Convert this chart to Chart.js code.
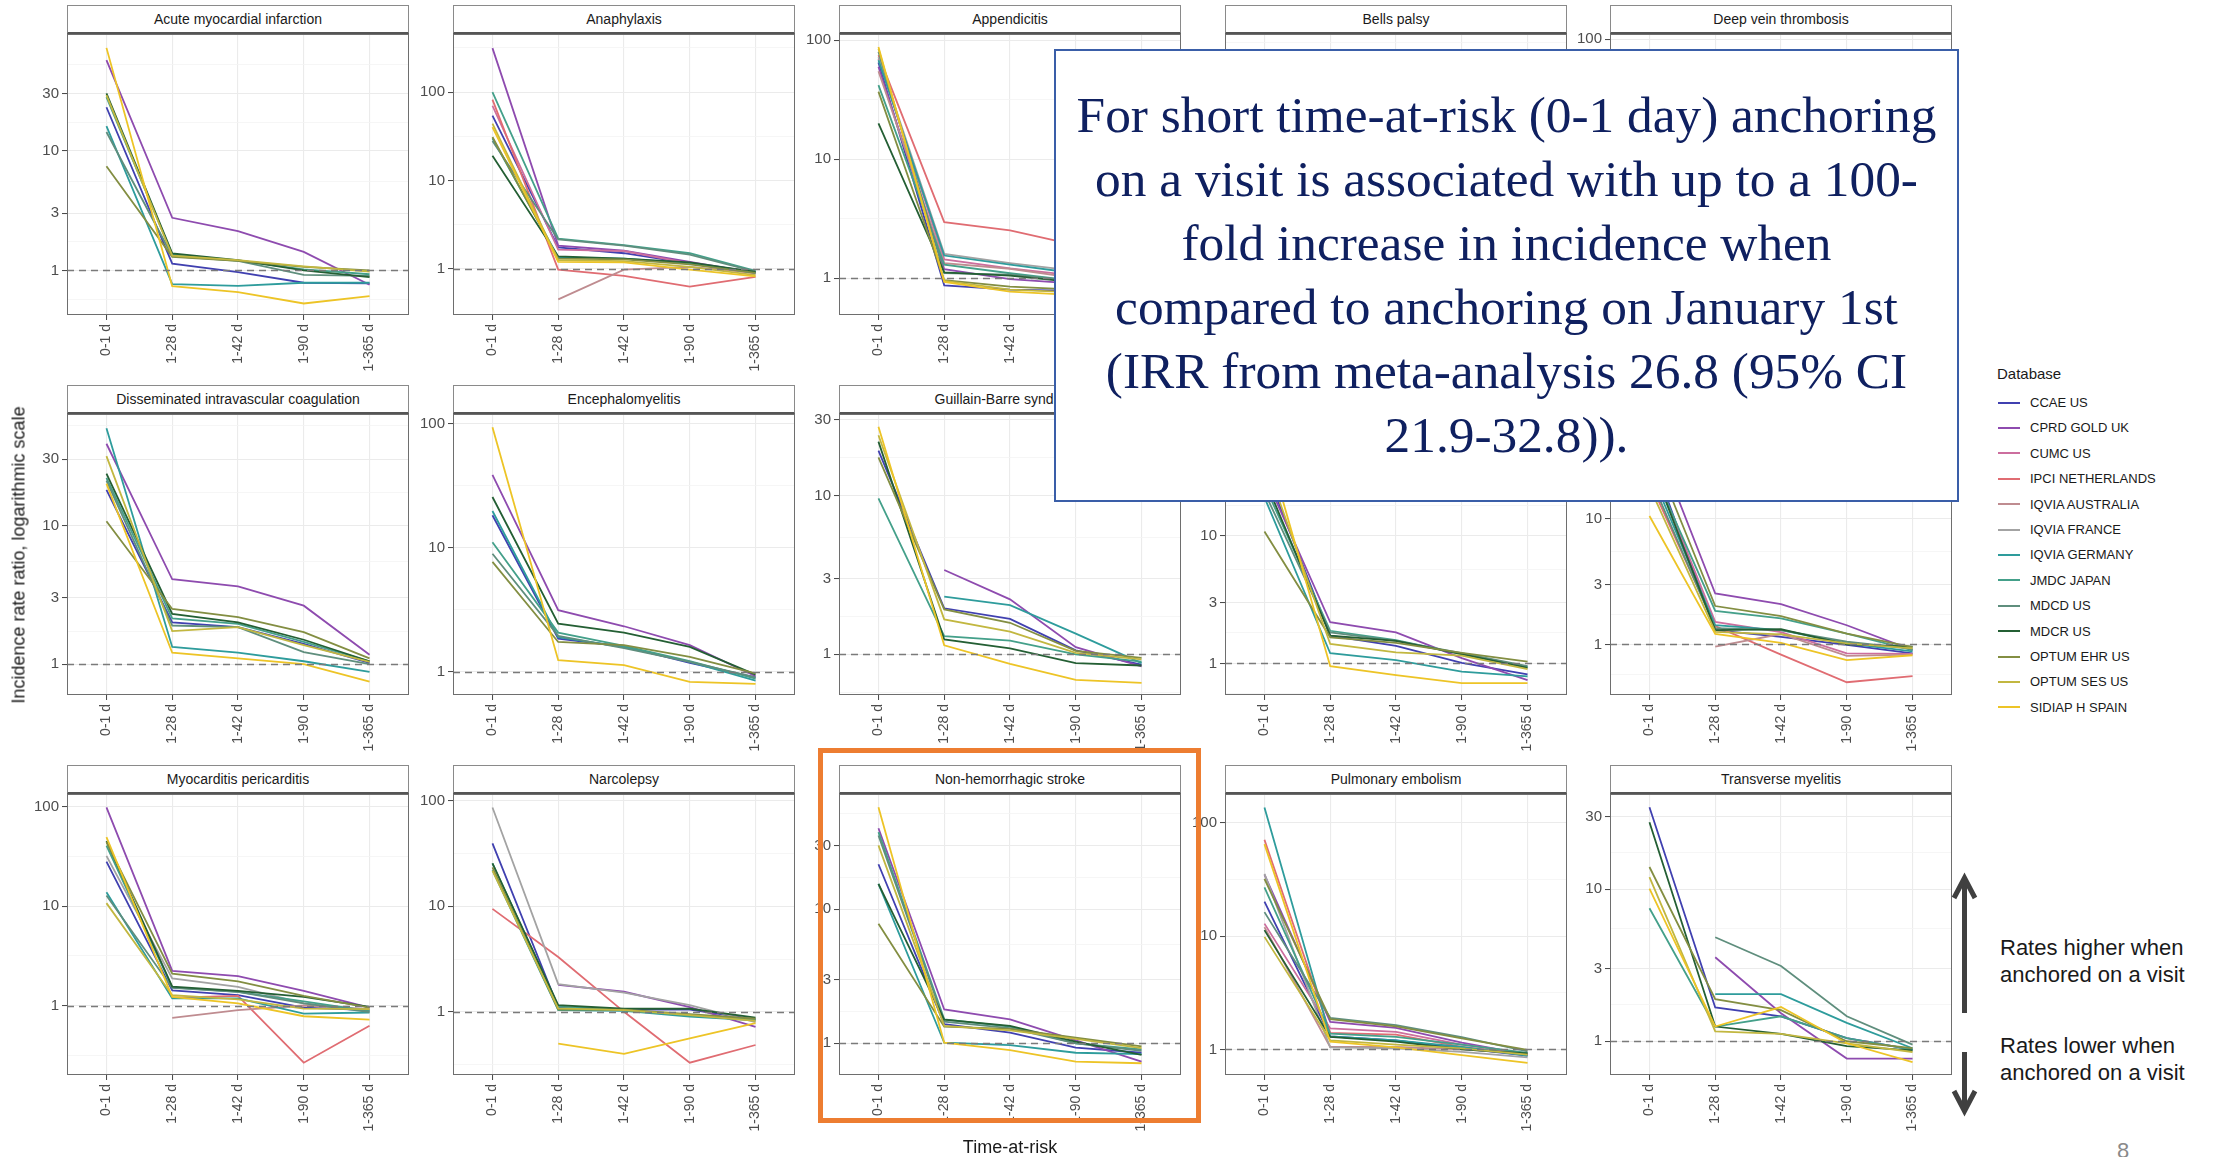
<!DOCTYPE html>
<html><head><meta charset="utf-8">
<script src="https://cdn.jsdelivr.net/npm/chart.js@4.4.1/dist/chart.umd.min.js"></script>
<style>
html,body{margin:0;padding:0;background:#fff;width:2215px;height:1157px;overflow:hidden;position:relative;font-family:"Liberation Sans",Arial,sans-serif;}
.abs{position:absolute;}
.strip{position:absolute;box-sizing:border-box;background:#fff;border:1px solid #8a8a8a;border-bottom:2px solid #555;text-align:center;font-size:14px;color:#1a1a1a;line-height:26px;white-space:nowrap;overflow:hidden;}
.lg{position:absolute;font-size:13px;color:#1a1a1a;line-height:18px;white-space:nowrap;}
.lg span{display:inline-block;width:22px;height:2px;vertical-align:middle;margin-right:10px;position:relative;top:-1px;}
.note{position:absolute;font-size:22px;line-height:27px;color:#1a1a1a;white-space:nowrap;}
#box{position:absolute;left:1054px;top:49px;width:905px;height:453px;box-sizing:border-box;border:2px solid #3a5ea8;background:#fff;z-index:20;}
.bl{position:absolute;left:0;width:100%;text-align:center;font-family:"Liberation Serif","Times New Roman",serif;color:#0f2060;white-space:nowrap;}
#orange{position:absolute;left:818px;top:748px;width:383px;height:375px;box-sizing:border-box;border:5px solid #ed7d31;z-index:21;}
</style></head><body>
<script>
// ---------------- DATA ----------------
const timeAtRisk = ['0-1 d', '1-28 d', '1-42 d', '1-90 d', '1-365 d'];
const databases = ['CCAE US', 'CPRD GOLD UK', 'CUMC US', 'IPCI NETHERLANDS', 'IQVIA AUSTRALIA', 'IQVIA FRANCE',
  'IQVIA GERMANY', 'JMDC JAPAN', 'MDCD US', 'MDCR US', 'OPTUM EHR US', 'OPTUM SES US', 'SIDIAP H SPAIN'];
const panelTitles = ['Acute myocardial infarction', 'Anaphylaxis', 'Appendicitis', 'Bells palsy', 'Deep vein thrombosis',
  'Disseminated intravascular coagulation', 'Encephalomyelitis', 'Guillain-Barre syndrome', 'Hemorrhagic stroke', 'Immune thrombocytopenia',
  'Myocarditis pericarditis', 'Narcolepsy', 'Non-hemorrhagic stroke', 'Pulmonary embolism', 'Transverse myelitis'];
const referenceRatio = 1;

// Incidence rate ratios, rows follow `databases`, null = not estimated
const acuteMiIrr = [
  [23, 1.14, 0.97, 0.79, 0.78], [57, 2.75, 2.13, 1.43, 0.76], null, null, null, null,
  [16, 0.77, 0.745, 0.79, 0.79], [28, 1.36, 1.21, 1.02, 0.93], [14.3, 1.32, 1.2, 0.92, 0.9],
  [30, 1.39, 1.22, 1.0, 0.88], [7.4, 1.3, 1.2, 1.07, 1.0], [29, 1.33, 1.22, 1.08, 0.98], [72, 0.74, 0.66, 0.53, 0.61]];
const anaphylaxisIrr = [
  [54, 1.75, 1.5, 1.15, 0.92], [314, 1.83, 1.6, 1.2, 0.9], [70, 1.65, 1.59, 1.15, 0.88], [82, 0.98, 0.83, 0.63, 0.81],
  [null, 0.45, 0.98, 1.05, 0.9], null, [30, 1.35, 1.3, 1.15, 0.9], [100, 2.2, 1.85, 1.5, 0.95], [28, 2.15, 1.83, 1.45, 0.93],
  [19, 1.38, 1.3, 1.18, 0.92], [31, 1.3, 1.28, 1.12, 0.9], [44, 1.25, 1.22, 1.05, 0.85], [40, 1.2, 1.18, 0.98, 0.82]];
const appendicitisIrr = [
  [65, 0.87, 0.8, 0.78, 0.8], [60, 1.19, 0.98, 0.9, 0.85], [70, 1.44, 1.21, 1.05, 0.9], [75, 2.96, 2.52, 1.9, 1.2],
  [55, 1.34, 1.2, 1.0, 0.9], [72, 1.6, 1.34, 1.15, 0.95], [68, 1.55, 1.3, 1.1, 0.9], [42, 1.3, 1.1, 0.95, 0.88],
  [80, 1.1, 1.07, 0.95, 0.87], [20, 1.12, 1.05, 0.92, 0.85], [37, 0.96, 0.85, 0.8, 0.82], [85, 0.95, 0.8, 0.76, 0.8],
  [88, 0.93, 0.77, 0.72, 0.78]];
const bellsPalsyIrr = [
  [25, 1.6, 1.4, 1.15, 1.0], [40, 2.2, 1.8, 1.4, 1.05], null, null, null, null,
  [12, 1.3, 1.2, 1.0, 0.9], [18, 1.5, 1.3, 1.1, 0.95], [20, 1.45, 1.3, 1.1, 0.95], [15, 1.4, 1.25, 1.05, 0.92],
  [22, 1.55, 1.35, 1.12, 0.98], [28, 1.5, 1.3, 1.1, 0.96], [35, 1.2, 1.05, 0.9, 0.85]];
const dvtIrr = [
  [45, 1.6, 1.4, 1.2, 1.0], [70, 2.0, 1.7, 1.35, 1.05], [30, 1.5, 1.35, 1.15, 0.98], [25, 1.4, 1.2, 1.0, 0.9], null, null,
  [20, 1.3, 1.2, 1.05, 0.95], [35, 1.45, 1.3, 1.1, 0.95], [40, 1.7, 1.5, 1.25, 1.02], [50, 1.65, 1.45, 1.2, 1.0],
  [38, 1.6, 1.4, 1.2, 1.0], [55, 1.5, 1.35, 1.15, 0.98], [80, 1.25, 1.1, 0.95, 0.88]];
const dicIrr = [
  [18, 2.0, 1.85, 1.4, 1.02], [38.7, 4.09, 3.63, 2.64, 1.17], null, null, null, null,
  [50, 1.33, 1.21, 1.05, 0.88], [22, 2.14, 1.95, 1.45, 1.05], [21, 1.9, 1.85, 1.22, 1.0], [23.6, 2.3, 2.0, 1.5, 1.05],
  [10.7, 2.5, 2.18, 1.7, 1.1], [31.5, 1.73, 1.85, 1.37, 1.04], [20, 1.21, 1.1, 1.0, 0.75]];
const encephalomyelitisIrr = [
  [18.3, 1.85, 1.6, 1.18, 0.9], [38.8, 3.14, 2.33, 1.64, 0.92], null, null, null, null,
  [19.8, 1.9, 1.58, 1.2, 0.85], [11.1, 2.07, 1.62, 1.22, 0.88], [8.96, 1.95, 1.55, 1.2, 0.9], [25.7, 2.45, 2.07, 1.59, 0.95],
  [7.7, 1.74, 1.64, 1.32, 0.97], null, [94, 1.24, 1.13, 0.83, 0.8]];
const gbsIrr = [
  [19.2, 1.95, 1.67, 1.06, 0.86], [null, 3.4, 2.22, 1.11, 0.84], null, null, null, null,
  [null, 2.31, 2.04, 1.35, 0.88], [9.6, 1.3, 1.22, 1.0, 0.9], null, [21.9, 1.24, 1.09, 0.88, 0.85],
  [17.4, 1.92, 1.58, 1.05, 0.95], [24, 1.66, 1.39, 1.02, 0.93], [27.2, 1.14, 0.87, 0.69, 0.66]];
const hemorrhagicStrokeIrr = [
  [35, 1.65, 1.37, 1.01, 0.82], [30, 2.1, 1.75, 1.1, 0.74], null, null, null, null,
  [20, 1.2, 1.06, 0.86, 0.79], [25, 1.8, 1.52, 1.18, 0.94], [22, 1.75, 1.5, 1.2, 0.95], [28, 1.65, 1.5, 1.18, 0.92],
  [10.8, 1.6, 1.45, 1.21, 1.03], [40, 1.42, 1.22, 1.15, 0.9], [60, 0.95, 0.81, 0.7, 0.7]];
const itpIrr = [
  [35, 1.3, 1.15, 0.99, 0.85], [55, 2.54, 2.09, 1.42, 0.9], [30, 1.51, 1.25, 0.85, 0.84], [20, 1.4, 0.83, 0.5, 0.56],
  [null, 0.96, 1.21, 0.81, 0.83], null, [25, 1.42, 1.3, 1.02, 0.88], [28, 1.85, 1.61, 1.22, 0.9], [22, 1.35, 1.3, 1.05, 0.92],
  [30, 1.3, 1.32, 1.0, 0.96], [40, 2.02, 1.68, 1.22, 0.95], [18, 1.26, 1.2, 1.02, 0.93], [10.5, 1.21, 1.03, 0.75, 0.82]];
const myocarditisIrr = [
  [28, 1.42, 1.27, 0.95, 0.9], [98.5, 2.23, 1.97, 1.4, 0.95], null, [null, 1.2, 1.25, 0.266, 0.625],
  [null, 0.75, 0.9, 1.0, 0.92], [32, 1.87, 1.54, 1.05, 0.9], [13.8, 1.18, 1.18, 0.83, 0.85], [40.6, 1.52, 1.37, 1.1, 0.88],
  [12.8, 1.5, 1.37, 1.05, 0.86], [45, 1.55, 1.4, 1.22, 0.97], [43.9, 2.09, 1.75, 1.25, 0.95], [10.7, 1.27, 1.15, 0.93, 0.92],
  [49.3, 1.22, 1.05, 0.78, 0.72]];
const narcolepsyIrr = [
  [39.5, 1.1, 1.05, 1.05, 0.85], [null, 1.8, 1.55, 1.11, 0.72], null, [9.46, 3.31, 1.0, 0.33, 0.485], null,
  [86.5, 1.83, 1.52, 1.16, 0.8], [22, 1.04, 1.02, 0.9, 0.83], [25.5, 1.12, 1.05, 0.92, 0.85], null,
  [25.5, 1.16, 1.07, 1.07, 0.88], [23.4, 1.05, 1.05, 0.95, 0.86], [21.8, 1.08, 1.04, 0.93, 0.82], [null, 0.5, 0.4, 0.56, 0.78]];
const nonHemStrokeIrr = [
  [21.7, 1.39, 1.2, 0.93, 0.85], [40.3, 1.79, 1.51, 1.05, 0.73], null, null, null, null,
  [15.5, 1.01, 0.97, 0.85, 0.83], [37.7, 1.51, 1.33, 1.0, 0.9], [35.6, 1.45, 1.3, 1.0, 0.88], [15.5, 1.5, 1.35, 1.03, 0.82],
  [7.8, 1.33, 1.28, 1.1, 0.95], [30, 1.35, 1.25, 1.08, 0.92], [57.8, 1.01, 0.89, 0.73, 0.71]];
const pulmonaryEmbolismIrr = [
  [20.2, 1.3, 1.2, 1.02, 0.88], [35, 1.75, 1.55, 1.15, 0.9], [12.9, 1.53, 1.43, 1.1, 0.92], [70.9, 1.4, 1.35, 1.05, 0.9],
  [12, 1.05, 1.05, 1.0, 0.92], [35.5, 1.04, 1.02, 0.95, 0.85], [137, 1.3, 1.2, 1.05, 0.88], [27, 1.38, 1.29, 1.1, 0.93],
  [16.3, 1.9, 1.64, 1.28, 0.96], [11.3, 1.29, 1.17, 1.0, 0.92], [32, 1.85, 1.6, 1.25, 0.99], [9.85, 1.2, 1.1, 1.02, 0.9],
  [65, 1.17, 1.04, 0.89, 0.76]];
const transverseMyelitisIrr = [
  [34.6, 1.67, 1.46, 1.05, 0.88], [null, 3.57, 1.53, 0.77, 0.77], null, null, null, null,
  [null, 2.04, 2.04, 1.32, 0.9], [7.5, 1.25, 1.46, 1.05, 0.88], [null, 4.83, 3.13, 1.46, 0.95], [27.6, 1.25, 1.12, 0.93, 0.87],
  [14.0, 1.89, 1.6, 1.0, 0.9], [12, 1.16, 1.12, 0.97, 0.85], [10.1, 1.25, 1.68, 0.97, 0.73]];

const panelIrr = [acuteMiIrr, anaphylaxisIrr, appendicitisIrr, bellsPalsyIrr, dvtIrr, dicIrr, encephalomyelitisIrr, gbsIrr,
  hemorrhagicStrokeIrr, itpIrr, myocarditisIrr, narcolepsyIrr, nonHemStrokeIrr, pulmonaryEmbolismIrr, transverseMyelitisIrr];
// y tick labels (breaks) per panel
const panelBreaks = [[1, 3, 10, 30], [1, 10, 100], [1, 10, 100], [1, 3, 10, 30], [1, 10, 100],
  [1, 3, 10, 30], [1, 10, 100], [1, 3, 10, 30], [1, 3, 10, 30], [1, 3, 10, 30],
  [1, 10, 100], [1, 10, 100], [1, 3, 10, 30], [1, 10, 100], [1, 3, 10, 30]];
// y axis limits per panel
const panelLimits = [[0.425, 94], [0.332, 454], [0.49, 113], [0.55, 60], [0.6, 110],
  [0.617, 63.4], [0.65, 120], [0.554, 32.7], [0.565, 90], [0.396, 68],
  [0.2, 134], [0.252, 116], [0.58, 72.6], [0.594, 180], [0.605, 42.3]];

// ---------------- STYLE / LAYOUT ----------------
const dbColors = ['#4040b0', '#8e4baf', '#cc6e9e', '#e06c72', '#bf8c90', '#a3a3a3', '#2e9c9c', '#44a08a',
  '#5f8e7d', '#245f34', '#838e42', '#c2b740', '#edc426'];
const FONT = '"Liberation Sans", Arial, sans-serif';
const COLS = [67, 453, 839, 1225, 1610], PW = 342;
const STRIP_TOP = [5, 385, 765], STRIP_H = 29, PH = 281;
const YW = 62, XH = 62, TOPPAD = 12;

const panelDecor = {
  id: 'panelDecor',
  afterDatasetsDraw(chart) {
    const { ctx, chartArea: a, scales: { y } } = chart;
    const py = Math.round(y.getPixelForValue(referenceRatio)) + 0.5;
    ctx.save();
    ctx.setLineDash([7, 5]);
    ctx.strokeStyle = '#7a7a7a';
    ctx.lineWidth = 1.7;
    ctx.beginPath(); ctx.moveTo(a.left, py); ctx.lineTo(a.right, py); ctx.stroke();
    ctx.restore();
  },
  afterDraw(chart) {
    const { ctx, chartArea: a } = chart;
    ctx.save();
    ctx.strokeStyle = '#6e6e6e'; ctx.lineWidth = 1;
    ctx.strokeRect(a.left + 0.5, a.top + 0.5, a.right - a.left - 1, a.bottom - a.top - 1);
    ctx.restore();
  }
};

function gridValues(breaks, lim) {
  const L = breaks.map(Math.log10);
  const ext = [L[0] - (L[1] - L[0]), ...L, L[L.length - 1] + (L[L.length - 1] - L[L.length - 2])];
  const minors = [];
  for (let i = 0; i < ext.length - 1; i++) minors.push(Math.pow(10, (ext[i] + ext[i + 1]) / 2));
  const inR = v => v >= lim[0] && v <= lim[1];
  return { majors: breaks.filter(inR), minors: minors.filter(inR) };
}

panelTitles.forEach((title, k) => {
  const col = k % 5, row = Math.floor(k / 5);
  const left = COLS[col], plotTop = STRIP_TOP[row] + STRIP_H;
  const lim = panelLimits[k];
  const g = gridValues(panelBreaks[k], lim);
  const isMajor = v => g.majors.some(m => Math.abs(m - v) < 1e-9);

  const wrap = document.createElement('div');
  wrap.className = 'abs';
  wrap.style.left = (left - YW) + 'px';
  wrap.style.top = (plotTop - TOPPAD) + 'px';
  const cv = document.createElement('canvas');
  cv.width = PW + YW; cv.height = TOPPAD + PH + XH;
  cv.style.width = cv.width + 'px'; cv.style.height = cv.height + 'px';
  wrap.appendChild(cv);
  document.body.appendChild(wrap);

  const strip = document.createElement('div');
  strip.className = 'strip';
  strip.style.left = left + 'px'; strip.style.top = STRIP_TOP[row] + 'px';
  strip.style.width = PW + 'px'; strip.style.height = STRIP_H + 'px';
  strip.textContent = title;
  document.body.appendChild(strip);

  const values = panelIrr[k];
  new Chart(cv, {
    type: 'line',
    data: {
      datasets: databases.map((db, i) => ({
        label: db,
        data: values[i] ? values[i].map((v, j) => ({ x: j + 1, y: v })) : [],
        borderColor: dbColors[i], backgroundColor: dbColors[i],
        borderWidth: 1.8, pointRadius: 0, fill: false, tension: 0, spanGaps: false,
        order: databases.length - i
      }))
    },
    options: {
      responsive: false, animation: false, devicePixelRatio: 1,
      layout: { padding: { top: TOPPAD, left: 0, right: 0, bottom: 0 } },
      plugins: { legend: { display: false }, tooltip: { enabled: false } },
      events: [],
      scales: {
        x: {
          type: 'linear', min: 0.4, max: 5.6, position: 'bottom',
          afterBuildTicks: s => { s.ticks = timeAtRisk.map((_, i) => ({ value: i + 1 })); },
          afterFit: s => { s.height = XH; s.paddingLeft = 0; s.paddingRight = 0; },
          ticks: {
            autoSkip: false, minRotation: 90, maxRotation: 90, padding: 4, color: '#4d4d4d',
            font: { family: FONT, size: 14 },
            callback: v => timeAtRisk[Math.round(v) - 1] || ''
          },
          grid: { color: '#ebebeb', lineWidth: 1.1, tickLength: 5, tickColor: '#444', tickWidth: 1 },
          border: { display: false }
        },
        y: {
          type: 'logarithmic', min: lim[0], max: lim[1],
          afterBuildTicks: s => {
            s.ticks = [...g.minors, ...g.majors].sort((a, b) => a - b).map(v => ({ value: v }));
          },
          afterFit: s => { s.width = YW; s.paddingTop = 0; s.paddingBottom = 0; },
          ticks: {
            autoSkip: false, padding: 3, color: '#4d4d4d', font: { family: FONT, size: 15 },
            callback: v => isMajor(v) ? String(g.majors.find(m => Math.abs(m - v) < 1e-9)) : ''
          },
          grid: {
            color: c => (c.tick && isMajor(c.tick.value)) ? '#ebebeb' : '#f4f4f4',
            lineWidth: c => (c.tick && isMajor(c.tick.value)) ? 1.1 : 0.8,
            tickLength: 5,
            tickColor: c => (c.tick && isMajor(c.tick.value)) ? '#444' : 'rgba(0,0,0,0)',
            tickWidth: 1
          },
          border: { display: false }
        }
      }
    },
    plugins: [panelDecor]
  });
});

// axis titles
const yTitle = document.createElement('div');
yTitle.className = 'abs';
yTitle.style.cssText = 'left:19px;top:555px;transform:translate(-50%,-50%) rotate(-90deg);white-space:nowrap;font-size:18px;color:#1a1a1a;';
yTitle.textContent = 'Incidence rate ratio, logarithmic scale';
document.body.appendChild(yTitle);
const xTitle = document.createElement('div');
xTitle.className = 'abs';
xTitle.style.cssText = 'left:1010px;top:1147px;transform:translate(-50%,-50%);white-space:nowrap;font-size:18px;color:#1a1a1a;';
xTitle.textContent = 'Time-at-risk';
document.body.appendChild(xTitle);

// legend
const lgTitle = document.createElement('div');
lgTitle.className = 'lg';
lgTitle.style.cssText += 'left:1997px;top:365px;font-size:15px;';
lgTitle.textContent = 'Database';
document.body.appendChild(lgTitle);
databases.forEach((db, i) => {
  const d = document.createElement('div');
  d.className = 'lg';
  d.style.left = '1998px';
  d.style.top = (403 + 25.4 * i - 9) + 'px';
  const sw = document.createElement('span');
  sw.style.background = dbColors[i];
  d.appendChild(sw);
  d.appendChild(document.createTextNode(db));
  document.body.appendChild(d);
});
</script>

<div id="box"></div>
<div id="orange"></div>

<svg class="abs" style="left:1940px;top:850px;" width="50" height="280">
  <g stroke="#404040" stroke-width="5" fill="none" stroke-linejoin="miter">
    <line x1="24.5" y1="163" x2="24.5" y2="30"/>
    <polyline points="14,48 24.5,28 35,48"/>
    <line x1="24.5" y1="202" x2="24.5" y2="258"/>
    <polyline points="14,241 24.5,261 35,241"/>
  </g>
</svg>
<div class="note" style="left:2000px;top:934px;">Rates higher when<br>anchored on a visit</div>
<div class="note" style="left:2000px;top:1032px;">Rates lower when<br>anchored on a visit</div>
<div class="abs" style="left:2117px;top:1140px;font-size:22px;line-height:22px;color:#8a8a8a;">8</div>

<script>
const boxLines = ['For short time-at-risk (0-1 day) anchoring', 'on a visit is associated with up to a 100-',
  'fold increase in incidence when', 'compared to anchoring on January 1st', '(IRR from meta-analysis 26.8 (95% CI', '21.9-32.8)).'];
(function () {
  const box = document.getElementById('box');
  const c = document.createElement('canvas').getContext('2d');
  c.font = '100px "Liberation Serif"';
  const w = c.measureText(boxLines[0]).width;
  const F = 100 * 860 / w;
  const baselines = [132, 196, 260, 324, 388, 452];
  boxLines.forEach((t, i) => {
    const d = document.createElement('div');
    d.className = 'bl';
    d.style.fontSize = F + 'px';
    d.style.lineHeight = F + 'px';
    d.style.top = (baselines[i] - 49 - 2 - 0.8375 * F) + 'px';
    d.textContent = t;
    box.appendChild(d);
  });
})();
</script>
</body></html>
